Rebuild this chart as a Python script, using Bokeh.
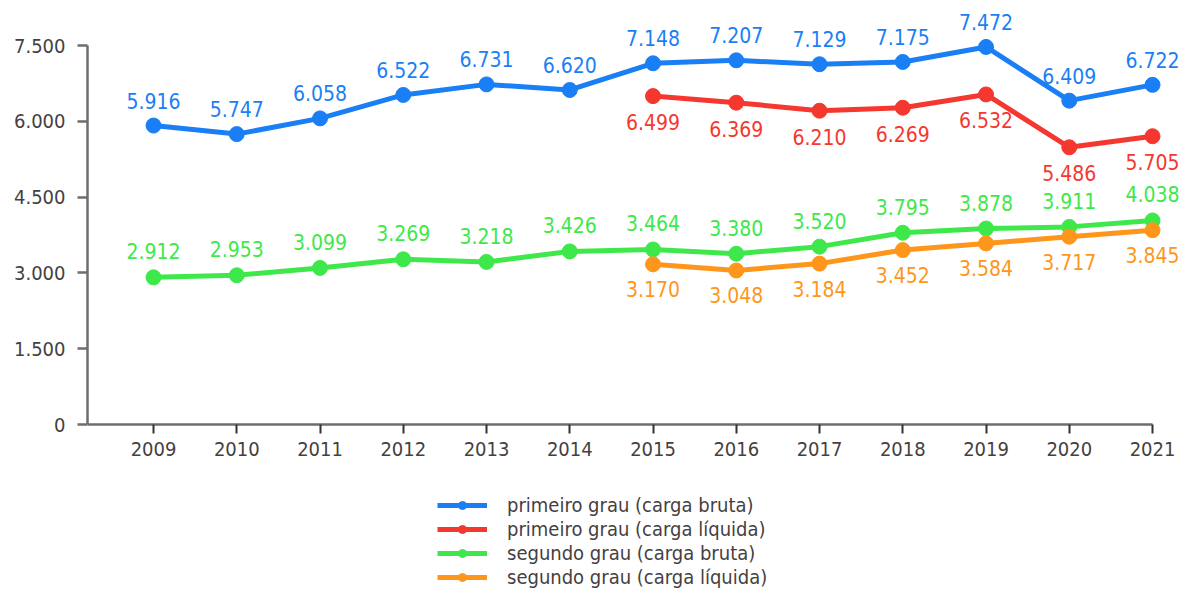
from bokeh.plotting import figure
from bokeh.models import ColumnDataSource, FixedTicker, Range1d, Legend, LegendItem, LinearAxis
from bokeh.core.properties import value
from bokeh.embed import file_html
from bokeh.resources import INLINE

years = list(range(2009, 2022))
years_liq = list(range(2015, 2022))
pg_bruta = [5916, 5747, 6058, 6522, 6731, 6620, 7148, 7207, 7129, 7175, 7472, 6409, 6722]
pg_liquida = [6499, 6369, 6210, 6269, 6532, 5486, 5705]
sg_bruta = [2912, 2953, 3099, 3269, 3218, 3426, 3464, 3380, 3520, 3795, 3878, 3911, 4038]
sg_liquida = [3170, 3048, 3184, 3452, 3584, 3717, 3845]
y_ticks = [0, 1500, 3000, 4500, 6000, 7500]
y_tick_labels = ["0", "1.500", "3.000", "4.500", "6.000", "7.500"]
series_names = ["primeiro grau (carga bruta)", "primeiro grau (carga líquida)",
                "segundo grau (carga bruta)", "segundo grau (carga líquida)"]
colors = ["#1a7ff5", "#f5382f", "#3ee84b", "#ff961c"]

FONT = "DejaVu Sans Condensed, Roboto, sans-serif"
TICK_COLOR = "#463f3f"


def fmt(v):
    return f"{v:,}".replace(",", ".")


p = figure(width=1183, height=595, output_backend="svg", toolbar_location=None,
           x_range=Range1d(2008.207, 2021.372), y_range=Range1d(-3384, 8391),
           min_border_left=87, min_border_right=0, min_border_top=0, min_border_bottom=0,
           x_axis_location=None, y_axis_location=None)
p.outline_line_color = None
p.xgrid.visible = False
p.ygrid.visible = False

yax = LinearAxis(ticker=FixedTicker(ticks=y_ticks), bounds=(0, 7500))
yax.major_label_overrides = {t: l for t, l in zip(y_ticks, y_tick_labels)}
yax.axis_line_color = "#6e6e6e"
yax.axis_line_width = 2.5
yax.major_tick_line_color = "#6e6e6e"
yax.major_tick_line_width = 2.5
yax.major_tick_out = 10
yax.major_tick_in = 0
yax.minor_tick_line_color = None
yax.major_label_text_font = FONT
yax.major_label_text_font_size = "20px"
yax.major_label_text_color = TICK_COLOR
yax.major_label_standoff = 12
p.add_layout(yax, "left")

xax = LinearAxis(ticker=FixedTicker(ticks=years), bounds=(2008.207, 2021), fixed_location=0)
xax.axis_line_color = "#6e6e6e"
xax.axis_line_width = 2.5
xax.major_tick_line_color = "#333333"
xax.major_tick_line_width = 2
xax.major_tick_out = 9
xax.major_tick_in = 0
xax.minor_tick_line_color = None
xax.major_label_text_font = FONT
xax.major_label_text_font_size = "20px"
xax.major_label_text_color = TICK_COLOR
xax.major_label_standoff = 8
p.add_layout(xax, "below")

series = [
    (years, pg_bruta, -25),
    (years_liq, pg_liquida, 26),
    (years, sg_bruta, -26),
    (years_liq, sg_liquida, 25),
]

items = []
for (xs, ys, off), name, col in zip(series, series_names, colors):
    src = ColumnDataSource(dict(x=xs, y=ys, label=[fmt(v) for v in ys]))
    ln = p.line("x", "y", source=src, line_color=col, line_width=5)
    ci = p.scatter("x", "y", source=src, size=15, fill_color=col, line_color=col)
    items.append((name, col, ln, ci, src, off))

for name, col, ln, ci, src, off in items:
    p.text("x", "y", text="label", source=src, text_color=col,
           text_font=value(FONT), text_font_size="21px",
           text_align="center", text_baseline="middle", y_offset=off)

legend = Legend(items=[LegendItem(label=n, renderers=[ln, ci]) for n, col, ln, ci, src, off in items],
                location=(350, 6))
legend.glyph_width = 50
legend.glyph_height = 20
legend.label_height = 20
legend.label_standoff = 20
legend.spacing = -1
legend.padding = 0
legend.margin = 0
legend.border_line_color = None
legend.background_fill_alpha = 0
legend.label_text_font = FONT
legend.label_text_font_size = "20px"
legend.label_text_color = TICK_COLOR
p.add_layout(legend, "center")

open("out.html", "w").write(file_html(p, INLINE))
